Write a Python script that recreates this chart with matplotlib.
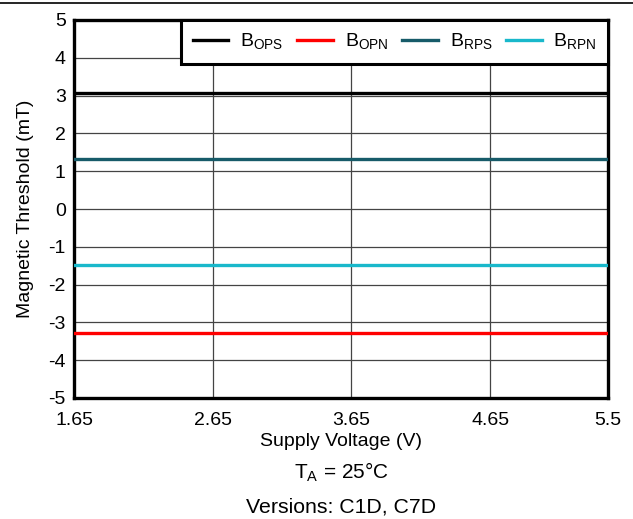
import numpy as np
import matplotlib
matplotlib.use("Agg")
import matplotlib.pyplot as plt
from matplotlib.lines import Line2D

plt.rcParams['font.family'] = ['Liberation Sans', 'DejaVu Sans']
plt.rcParams['mathtext.fontset'] = 'custom'
plt.rcParams['mathtext.rm'] = 'Liberation Sans'
plt.rcParams['axes.unicode_minus'] = False

# supply voltage (V) and thresholds (mT)
vcc = [1.65, 2.65, 3.65, 4.65, 5.5]
bops = [3.07, 3.07, 3.07, 3.07, 3.07]
bopn = [-3.29, -3.29, -3.29, -3.29, -3.29]
brps = [1.31, 1.31, 1.31, 1.31, 1.31]
brpn = [-1.48, -1.48, -1.48, -1.48, -1.48]

names = ['B$_{\\mathrm{OPS}}$', 'B$_{\\mathrm{OPN}}$', 'B$_{\\mathrm{RPS}}$', 'B$_{\\mathrm{RPN}}$']
colors = ['#000000', '#ff0000', '#175b69', '#19b8cb']
xticks = [1.65, 2.65, 3.65, 4.65, 5.5]
yticks = np.arange(-5, 6, 1)

W, H = 633, 519
fig = plt.figure(figsize=(W / 100, H / 100), dpi=100)
ax = fig.add_axes([74 / W, 1 - 398 / H, 534 / W, 378 / H])

for y, c, n in zip([bops, bopn, brps, brpn], colors, names):
    ax.plot(vcc, y, color=c, lw=2.4, label=n, zorder=3)

ax.set_xlim(1.65, 5.5)
ax.set_ylim(-5, 5)
ax.set_xticks(xticks)
ax.set_xticklabels(['1.65', '2.65', '3.65', '4.65', '5.5'])
ax.set_yticks(yticks)
ax.tick_params(length=0, labelsize=14)
ax.tick_params(axis='x', pad=10)
ax.tick_params(axis='y', pad=6)
ax.grid(True, color='#444444', lw=0.9)
for s in ax.spines.values():
    s.set_linewidth(2.4)

ax.set_xlabel('Supply Voltage (V)', fontsize=14, labelpad=3)
ax.set_ylabel('Magnetic Threshold (mT)', fontsize=14, labelpad=10)

leg = ax.legend(loc='upper right', ncol=4, fontsize=14, frameon=True, fancybox=False,
                handlelength=1.85, handletextpad=0.6, columnspacing=0.7,
                borderaxespad=0, borderpad=0.6)
leg.get_frame().set_edgecolor('black')
leg.get_frame().set_linewidth(2.2)
leg.get_frame().set_alpha(1)

cx = (74 + 608) / 2 / W
fig.text(cx, 1 - 472 / H, 'T$_{\\mathrm{A}}$ = 25°C', ha='center', va='center', fontsize=15)
fig.text(cx, 1 - 507 / H, 'Versions: C1D, C7D', ha='center', va='center', fontsize=15.3)
fig.add_artist(Line2D([0, 1], [1 - 3 / H, 1 - 3 / H], color='black', lw=1.2))

fig.savefig('out.png', dpi=100)
